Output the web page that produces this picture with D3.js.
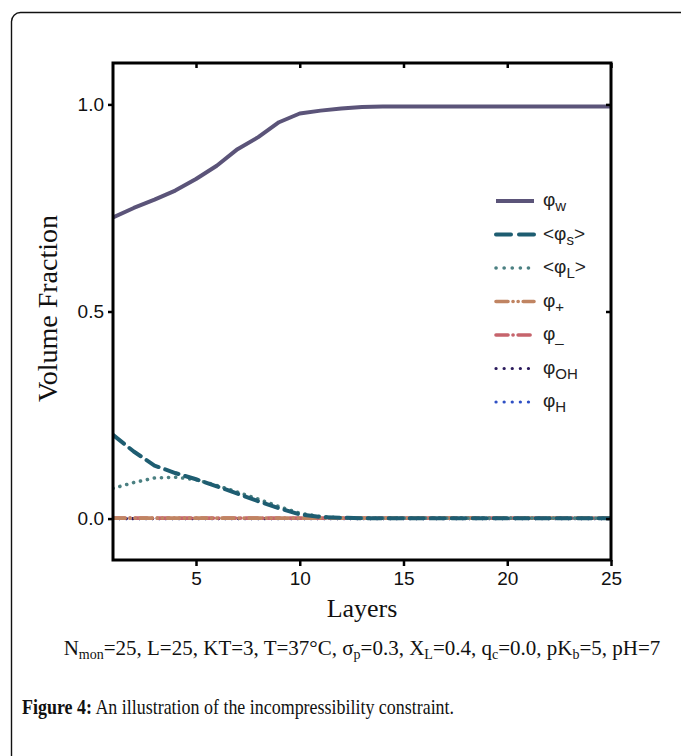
<!DOCTYPE html>
<html>
<head>
<meta charset="utf-8">
<script src="https://cdn.jsdelivr.net/npm/d3@7"></script>
<style>
  body { margin: 0; background: #fff; }
  svg { display: block; }
</style>
</head>
<body>
<svg id="chart"></svg>
<script>
// layers 1..25
const layers = d3.range(1, 26);
// volume fractions
const phiW  = [0.727, 0.75, 0.77, 0.792, 0.82, 0.852, 0.892, 0.921, 0.957, 0.978, 0.985, 0.99, 0.994, 0.995, 0.995, 0.995, 0.995, 0.995, 0.995, 0.995, 0.995, 0.995, 0.995, 0.995, 0.995];
const phiS  = [0.202, 0.162, 0.128, 0.11, 0.095, 0.078, 0.06, 0.042, 0.025, 0.01, 0.004, 0.002, 0.001, 0.001, 0.001, 0.001, 0.001, 0.001, 0.001, 0.001, 0.001, 0.001, 0.001, 0.001, 0.001];
const phiL  = [0.073, 0.087, 0.098, 0.1, 0.094, 0.08, 0.064, 0.047, 0.029, 0.013, 0.005, 0.002, 0.001, 0.001, 0.001, 0.001, 0.001, 0.001, 0.001, 0.001, 0.001, 0.001, 0.001, 0.001, 0.001];
const phiP  = [0.001, 0.001, 0.001, 0.001, 0.001, 0.001, 0.001, 0.001, 0.001, 0.001, 0.001, 0.001, 0.001, 0.001, 0.001, 0.001, 0.001, 0.001, 0.001, 0.001, 0.001, 0.001, 0.001, 0.001, 0.001];
const phiM  = [0.001, 0.001, 0.001, 0.001, 0.001, 0.001, 0.001, 0.001, 0.001, 0.001, 0.001, 0.001, 0.001, 0.001, 0.001, 0.001, 0.001, 0.001, 0.001, 0.001, 0.001, 0.001, 0.001, 0.001, 0.001];
const phiOH = [0, 0, 0, 0, 0, 0, 0, 0, 0, 0, 0, 0, 0, 0, 0, 0, 0, 0, 0, 0, 0, 0, 0, 0, 0];
const phiH  = [0, 0, 0, 0, 0, 0, 0, 0, 0, 0, 0, 0, 0, 0, 0, 0, 0, 0, 0, 0, 0, 0, 0, 0, 0];
const xTicks = [5, 10, 15, 20, 25];
const yTicks = [0, 0.5, 1.0];

const width = 681, height = 756;
const marginLeft = 113, marginRight = 70, marginTop = 63, marginBottom = 196;

// series drawn bottom first so phiS ends on top, as in the figure
const series = [
  {key: "H",  label: ["φ", "H", ""],    values: phiH,  color: "#2f50c4", dash: "0.1 6.5", width: 3.2},
  {key: "OH", label: ["φ", "OH", ""],   values: phiOH, color: "#2b1b5c", dash: "0.1 6.5", width: 3.2},
  {key: "m",  label: ["φ", "_", ""],    values: phiM,  color: "#c6646c", dash: "12 5 0.1 5", width: 3.6},
  {key: "p",  label: ["φ", "+", ""],    values: phiP,  color: "#c08462", dash: "12 5 0.1 5 0.1 5", width: 3.6},
  {key: "L",  label: ["<φ", "L", ">"],  values: phiL,  color: "#4b8082", dash: "0.1 7", width: 3.6},
  {key: "s",  label: ["<φ", "s", ">"],  values: phiS,  color: "#1e5d71", dash: "14 7", width: 4},
  {key: "w",  label: ["φ", "w", ""],    values: phiW,  color: "#5b5479", dash: null, width: 4}
];
const legendOrder = ["w", "s", "L", "p", "m", "OH", "H"];

const svg = d3.select("#chart")
  .attr("width", width)
  .attr("height", height)
  .attr("viewBox", [0, 0, width, height]);

// panel frame
svg.append("rect")
  .attr("x", 11.5).attr("y", 12.5)
  .attr("width", 760).attr("height", 900)
  .attr("rx", 9)
  .attr("fill", "none")
  .attr("stroke", "#111")
  .attr("stroke-width", 1.4);

const x = d3.scaleLinear([1, 25], [marginLeft, width - marginRight]);
const y = d3.scaleLinear([-0.1, 1.1], [height - marginBottom, marginTop]);

svg.append("clipPath").attr("id", "clip")
  .append("rect")
  .attr("x", x(1)).attr("y", y(1.1))
  .attr("width", x(25) - x(1)).attr("height", y(-0.1) - y(1.1));

const line = d3.line()
  .x((d, i) => x(layers[i]))
  .y(d => y(d));

svg.append("g")
  .attr("clip-path", "url(#clip)")
  .selectAll("path")
  .data(series)
  .join("path")
    .attr("d", d => line(d.values))
    .attr("fill", "none")
    .attr("stroke", d => d.color)
    .attr("stroke-width", d => d.width)
    .attr("stroke-dasharray", d => d.dash)
    .attr("stroke-linecap", d => d.dash ? "round" : "butt")
    .attr("stroke-linejoin", "round");

// axes
const tickFont = "'Liberation Sans', Arial, sans-serif";
svg.append("g")
  .attr("transform", `translate(0,${y(-0.1)})`)
  .call(d3.axisBottom(x).tickValues(xTicks).tickFormat(d3.format("d")).tickSize(6).tickPadding(6).tickSizeOuter(0))
  .call(g => g.select(".domain").remove())
  .call(g => g.selectAll(".tick line").attr("stroke-width", 2.5))
  .call(g => g.selectAll(".tick text").attr("font-family", tickFont).attr("font-size", 19).attr("fill", "#111"));

svg.append("g")
  .attr("transform", `translate(0,${y(1.1)})`)
  .call(d3.axisBottom(x).tickValues(xTicks).tickFormat("").tickSize(5).tickSizeOuter(0))
  .call(g => g.select(".domain").remove())
  .call(g => g.selectAll(".tick line").attr("stroke-width", 2.5));

svg.append("g")
  .attr("transform", `translate(${x(1)},0)`)
  .call(d3.axisLeft(y).tickValues(yTicks).tickFormat(d3.format(".1f")).tickSize(5).tickPadding(4).tickSizeOuter(0))
  .call(g => g.select(".domain").remove())
  .call(g => g.selectAll(".tick line").attr("stroke-width", 2.5))
  .call(g => g.selectAll(".tick text").attr("font-family", tickFont).attr("font-size", 19).attr("fill", "#111"));

svg.append("g")
  .attr("transform", `translate(${x(25)},0)`)
  .call(d3.axisLeft(y).tickValues(yTicks).tickFormat("").tickSize(5).tickSizeOuter(0))
  .call(g => g.select(".domain").remove())
  .call(g => g.selectAll(".tick line").attr("stroke-width", 2.5));

svg.append("rect")
  .attr("x", x(1)).attr("y", y(1.1))
  .attr("width", x(25) - x(1)).attr("height", y(-0.1) - y(1.1))
  .attr("fill", "none")
  .attr("stroke", "#000")
  .attr("stroke-width", 3);

// axis titles
const serif = "'Liberation Serif', 'Times New Roman', serif";
svg.append("text")
  .attr("transform", `translate(57,${(y(1.1) + y(-0.1)) / 2 - 3}) rotate(-90)`)
  .attr("text-anchor", "middle")
  .attr("font-family", serif)
  .attr("font-size", 28)
  .attr("fill", "#111")
  .text("Volume Fraction");

svg.append("text")
  .attr("x", (x(1) + x(25)) / 2)
  .attr("y", 617)
  .attr("text-anchor", "middle")
  .attr("font-family", serif)
  .attr("font-size", 26)
  .attr("fill", "#111")
  .text("Layers");

// legend
const legend = svg.append("g")
  .selectAll("g")
  .data(legendOrder.map(k => series.find(s => s.key === k)))
  .join("g")
    .attr("transform", (d, i) => `translate(496,${201 + i * 33.5})`);

legend.append("line")
  .attr("x1", 0).attr("x2", 38)
  .attr("stroke", d => d.color)
  .attr("stroke-width", d => d.width)
  .attr("stroke-dasharray", d => d.dash === "14 7" ? "15 8" : d.dash === "0.1 7" || d.dash === "0.1 6.5" ? "0.1 8" : d.dash)
  .attr("stroke-linecap", d => d.dash ? "round" : "butt");

const lt = legend.append("text")
  .attr("x", 47).attr("y", 5)
  .attr("font-family", tickFont)
  .attr("font-size", 19)
  .attr("fill", "#222");
lt.append("tspan").text(d => d.label[0]);
lt.append("tspan").attr("font-size", 15).attr("dy", d => d.label[1] === "_" ? 2 : 5).text(d => d.label[1]);
lt.append("tspan").attr("dy", -5).text(d => d.label[2]);

// parameter line
const params = svg.append("text")
  .attr("x", 362).attr("y", 655)
  .attr("text-anchor", "middle")
  .attr("font-family", serif)
  .attr("font-size", 21)
  .attr("fill", "#111");
const parts = [
  ["N", "mon", "=25, L=25, KT=3, T=37°C, "],
  ["σ", "p", "=0.3, "],
  ["X", "L", "=0.4, "],
  ["q", "c", "=0.0, "],
  ["pK", "b", "=5, pH=7"]
];
parts.forEach(p => {
  params.append("tspan").text(p[0]);
  params.append("tspan").attr("font-size", 14).attr("dy", 4).text(p[1]);
  params.append("tspan").attr("dy", -4).text(p[2]);
});

// caption (the original face is narrower than Times, so squeeze it a bit)
const cap = svg.append("text")
  .attr("transform", "translate(22,714) scale(0.855,1)")
  .attr("font-family", serif)
  .attr("font-size", 21)
  .attr("fill", "#111");
cap.append("tspan").attr("font-weight", "bold").text("Figure 4:");
cap.append("tspan").text(" An illustration of the incompressibility constraint.");
</script>
</body>
</html>
